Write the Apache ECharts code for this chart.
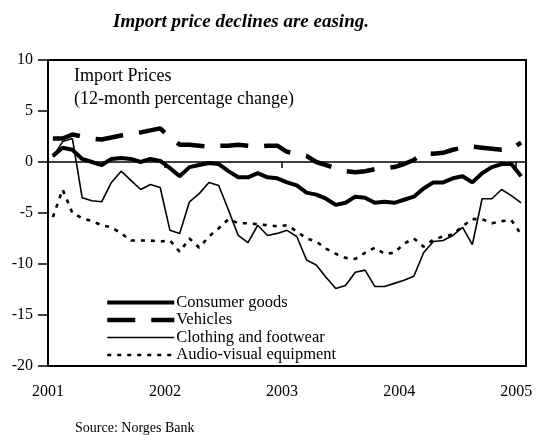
<!DOCTYPE html>
<html>
<head>
<meta charset="utf-8">
<script src="https://cdn.jsdelivr.net/npm/echarts@6/dist/echarts.min.js"></script>
<style>
  html, body {margin: 0; padding: 0; background: #fff;}
  #chart {width: 539px; height: 435px;}
</style>
</head>
<body>
<div id="chart"></div>
<script>
// monthly, Jan 2001 .. Jan 2005
const years = ['2001', '2002', '2003', '2004', '2005'];
const consumerGoods = [
  0.6, 1.4, 1.2, 0.3, 0.0, -0.3, 0.3, 0.4, 0.3, 0.0, 0.3, 0.1,
  -0.6, -1.4, -0.5, -0.3, -0.1, -0.2, -0.9, -1.5, -1.5, -1.1, -1.5, -1.6,
  -2.0, -2.3, -3.0, -3.2, -3.6, -4.2, -4.0, -3.4, -3.5, -4.0, -3.9, -4.0,
  -3.7, -3.4, -2.6, -2.0, -2.0, -1.6, -1.4, -2.0, -1.1, -0.5, -0.2, -0.2,
  -1.4
];
const vehicles = [
  2.3, 2.3, 2.7, 2.5, 2.3, 2.2, 2.4, 2.6, 2.8, 2.9, 3.1, 3.3,
  2.4, 1.7, 1.7, 1.6, 1.5, 1.6, 1.6, 1.7, 1.6, 1.5, 1.6, 1.6,
  1.0, 0.8, 0.6, 0.0, -0.3, -0.6, -0.9, -1.0, -0.9, -0.7, -0.6, -0.5,
  -0.2, 0.2, 0.9, 0.8, 0.9, 1.2, 1.4, 1.5, 1.4, 1.3, 1.2, 1.3,
  1.9
];
const clothing = [
  0.5, 2.0, 2.3, -3.5, -3.8, -3.9, -2.0, -0.9, -1.8, -2.7, -2.2, -2.5,
  -6.7, -7.0, -3.9, -3.1, -2.0, -2.3, -4.7, -7.2, -7.9, -6.2, -7.2, -7.0,
  -6.7, -7.3, -9.6, -10.1, -11.3, -12.4, -12.1, -10.8, -10.6, -12.2, -12.2, -11.9,
  -11.6, -11.2, -8.9, -7.8, -7.7, -7.2, -6.4, -8.1, -3.6, -3.6, -2.7, -3.3,
  -4.0
];
const audioVisual = [
  -5.4, -2.7, -5.0, -5.5, -5.8, -6.2, -6.4, -7.0, -7.7, -7.7, -7.7, -7.8,
  -7.7, -8.8, -7.5, -8.4, -7.3, -6.5, -5.6, -6.0, -6.0, -6.1, -6.2, -6.3,
  -6.2, -6.8, -7.5, -7.8, -8.5, -9.0, -9.4, -9.5, -8.9, -8.4, -9.0, -8.9,
  -8.0, -7.5, -8.3, -7.6, -7.3, -7.1, -6.3, -5.6, -5.6, -6.0, -5.8, -5.7,
  -7.1
];

const font = 'Liberation Serif';
// x = months since Jan 2001, each point in the middle of its month
const pts = arr => arr.map((v, i) => [i + 0.5, v]);

const chart = echarts.init(document.getElementById('chart'));

const xBase = {
  type: 'value',
  min: 0,
  max: consumerGoods.length,
  interval: 12,
  splitLine: {show: false}
};

chart.setOption({
  animation: false,
  backgroundColor: '#fff',
  title: {
    text: 'Import price declines are easing.',
    left: 108,
    top: 8,
    textStyle: {fontFamily: font, fontSize: 19, fontWeight: 'bold', fontStyle: 'italic', color: '#000'}
  },
  grid: {
    left: 48, right: 13, top: 60, bottom: 69,
    show: true, borderColor: '#000', borderWidth: 2
  },
  xAxis: [
    Object.assign({}, xBase, {
      position: 'bottom',
      axisLine: {onZero: false, show: false},
      axisTick: {show: false},
      axisLabel: {
        margin: 18,
        fontFamily: font, fontSize: 16, color: '#000',
        showMaxLabel: false,
        formatter: v => (v % 12 === 0 ? years[v / 12] : '')
      }
    }),
    Object.assign({}, xBase, {
      position: 'top',
      axisLine: {onZero: true, lineStyle: {color: '#000', width: 1.5}},
      axisTick: {inside: true, length: 6, lineStyle: {color: '#000', width: 1.5}},
      axisLabel: {show: false}
    })
  ],
  yAxis: {
    type: 'value',
    min: -20,
    max: 10,
    interval: 5,
    splitLine: {show: false},
    axisLine: {show: true, lineStyle: {color: '#000', width: 2}},
    axisTick: {show: true, length: 10, lineStyle: {color: '#000', width: 1.5}},
    axisLabel: {margin: 15, fontFamily: font, fontSize: 16, color: '#000'}
  },
  legend: {
    orient: 'vertical',
    left: 105,
    top: 294,
    padding: 0,
    itemWidth: 67,
    itemHeight: 14,
    itemGap: 0.5,
    textStyle: {fontFamily: font, fontSize: 16.5, color: '#000', padding: [0, 0, 0, -3]},
    itemStyle: {opacity: 0},
    lineStyle: {width: 'inherit'},
    data: ['Consumer goods', 'Vehicles', 'Clothing and footwear', 'Audio-visual equipment']
  },
  graphic: [
    {type: 'text', left: 74, top: 67, style: {text: 'Import Prices', font: '18px "Liberation Serif"', fill: '#000'}},
    {type: 'text', left: 74, top: 90, style: {text: '(12-month percentage change)', font: '18px "Liberation Serif"', fill: '#000'}},
    {type: 'text', left: 75, top: 421, style: {text: 'Source: Norges Bank', font: '14px "Liberation Serif"', fill: '#000'}}
  ],
  series: [
    {
      name: 'Consumer goods', type: 'line', data: pts(consumerGoods),
      symbol: 'none', z: 5,
      lineStyle: {color: '#000', width: 4}
    },
    {
      name: 'Vehicles', type: 'line', data: pts(vehicles),
      symbol: 'none', z: 4,
      lineStyle: {color: '#000', width: 4.5, type: [28, 16], cap: 'butt'}
    },
    {
      name: 'Clothing and footwear', type: 'line', data: pts(clothing),
      symbol: 'none', z: 3,
      lineStyle: {color: '#000', width: 1.6}
    },
    {
      name: 'Audio-visual equipment', type: 'line', data: pts(audioVisual),
      symbol: 'none', z: 2,
      lineStyle: {color: '#000', width: 2.6, type: [4, 6], cap: 'butt'}
    }
  ]
});
</script>
</body>
</html>
